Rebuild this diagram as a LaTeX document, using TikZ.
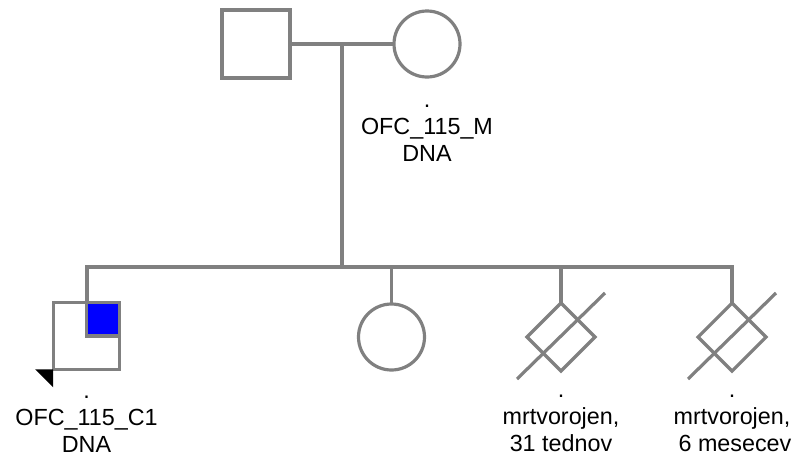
\documentclass[tikz,border=0pt]{standalone}
\usepackage{fontspec}
\setmainfont{Liberation Sans}
\usetikzlibrary{shapes.geometric,calc}
\definecolor{lineg}{HTML}{808080}
\tikzset{
  pline/.style={draw=lineg, line width=2.4pt},
  male/.style={pline, rectangle, minimum size=51pt, inner sep=0pt, outer sep=0pt},
  female/.style={pline, circle, minimum size=49.5pt, inner sep=0pt, outer sep=0pt},
  sbirth/.style={pline, diamond, minimum width=51pt, minimum height=51pt, inner sep=0pt, outer sep=0pt},
  lbl/.style={align=center, anchor=base, font=\fontsize{17.5pt}{20.25pt}\selectfont, text=black, inner sep=0pt}
}
\begin{document}
\begin{tikzpicture}[x=0.75pt,y=-0.75pt]
\useasboundingbox (0,0) rectangle (800,461);
% parents
\node[male] (fa) at (256,44) {};
\node[female] (mo) at (427,44) {};
\coordinate (mar) at (342,44);
\coordinate (sib) at (342,267);
\draw[pline] (fa.east) -- (mo.west);
\draw[pline] (mar) -- (sib);
% children
\node[male, minimum size=50pt] (c1) at (86.5,336) {};
\node[female] (c2) at (391.5,337) {};
\node[sbirth] (c3) at (561,337) {};
\node[sbirth] (c4) at (732,337) {};
\coordinate (s1) at (87,267);
\coordinate (s4) at (732,267);
\draw[pline] (s1 |- c1.north) -- (s1) -- (s4) -- (c4.north);
\draw[pline] (c2.north |- s1) -- (c2.north);
\draw[pline] (c3.north |- s1) -- (c3.north);
% affected quadrant
\draw[pline, fill=blue] (c1.center) rectangle (c1.north east);
% proband arrow
\fill[black] ($(c1.south west)+(-18,0)$) -- (c1.south west) -- ($(c1.south west)+(0,18)$) -- cycle;
% stillbirth slashes
\draw[pline] ($(c3.center)+(-44,42)$) -- ($(c3.center)+(44,-44)$);
\draw[pline] ($(c4.center)+(-44,42)$) -- ($(c4.center)+(44,-44)$);
% labels
\node[lbl] (lm) at (427,161) {.\\OFC\_115\_M\\DNA};
\node[lbl] (lc1) at (86.5,452) {.\\OFC\_115\_C1\\DNA};
\node[lbl] (lc3) at (561,451) {.\\mrtvorojen,\\31 tednov};
\node[lbl] (lc4) at (732,451) {.\\mrtvorojen,\\\hspace*{4.5pt}6 mesecev};
\end{tikzpicture}
\end{document}
